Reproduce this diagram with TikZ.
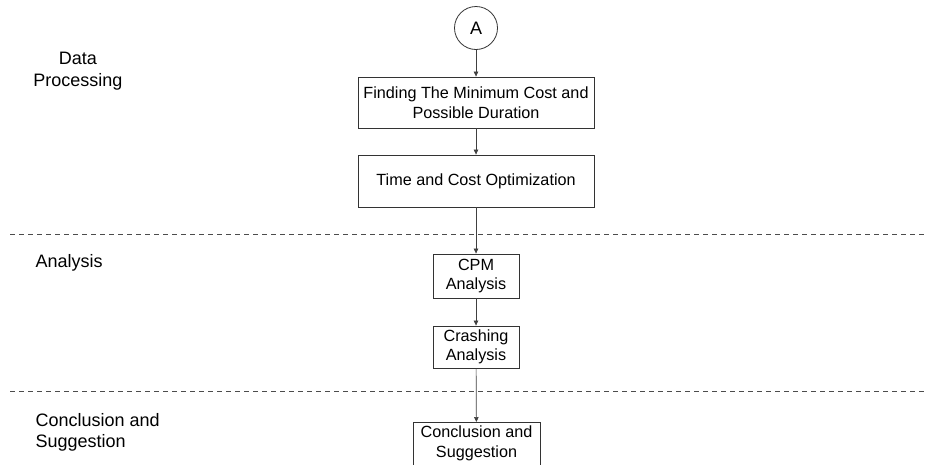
\documentclass[tikz,border=0pt]{standalone}
\usepackage{fontspec}
\setmainfont{Liberation Sans}
\usetikzlibrary{arrows.meta}
\begin{document}
\begin{tikzpicture}[x=1pt,y=-1pt,
  every node/.style={font=\fontsize{16.2}{19.5}\selectfont},
  box/.style={draw=black!80, line width=0.8pt, align=center, inner sep=0pt},
  conn/.style={draw=black!75, line width=0.7pt, -{Triangle[length=5pt,width=4.5pt]}},
  sep/.style={draw=black!70, line width=0.9pt, dash pattern=on 5pt off 4pt},
  lab/.style={align=left, anchor=west, font=\fontsize{18}{21}\selectfont},
  labc/.style={align=center, font=\fontsize{18}{21.5}\selectfont}]
\useasboundingbox (0,0) rectangle (925,464);
\clip (0,0) rectangle (925,464);
\node[draw=black!80, line width=0.8pt, circle, minimum size=43pt, inner sep=0pt, font=\fontsize{18}{21}\selectfont] (A) at (476,28) {A};
\node[box, minimum width=236pt, minimum height=51pt] (b1) at (476,102.5) {Finding The Minimum Cost and\\Possible Duration};
\node[box, minimum width=236pt, minimum height=52pt] (b2) at (476,181) {Time and Cost Optimization};
\node[box, minimum width=86pt, minimum height=44pt] (b3) at (476,276) {CPM\\Analysis};
\node[box, minimum width=86pt, minimum height=42pt] (b4) at (476,347) {Crashing\\Analysis};
\node[box, minimum width=127pt, minimum height=52pt, anchor=north] (b5) at (476.5,422) {};
\node[align=center] (b5t) at (476.5,443.5) {Conclusion and\\Suggestion};
\coordinate (l1a) at (10,234);
\coordinate (l1b) at (925,234);
\coordinate (l2a) at (10,391);
\coordinate (l2b) at (925,391);
\draw[sep] (l1a) -- (l1b);
\draw[sep] (l2a) -- (l2b);
\draw[conn] (A) -- (b1);
\draw[conn] (b1) -- (b2);
\draw[conn] (b2) -- (b3);
\draw[conn] (b3) -- (b4);
\draw[conn] (b4) -- (b5);
\node[labc] (t1) at (78,71) {Data\\Processing};
\node[lab] (t2) at (32,263) {Analysis};
\node[lab] (t3) at (32,432) {Conclusion and\\Suggestion};
\end{tikzpicture}
\end{document}
